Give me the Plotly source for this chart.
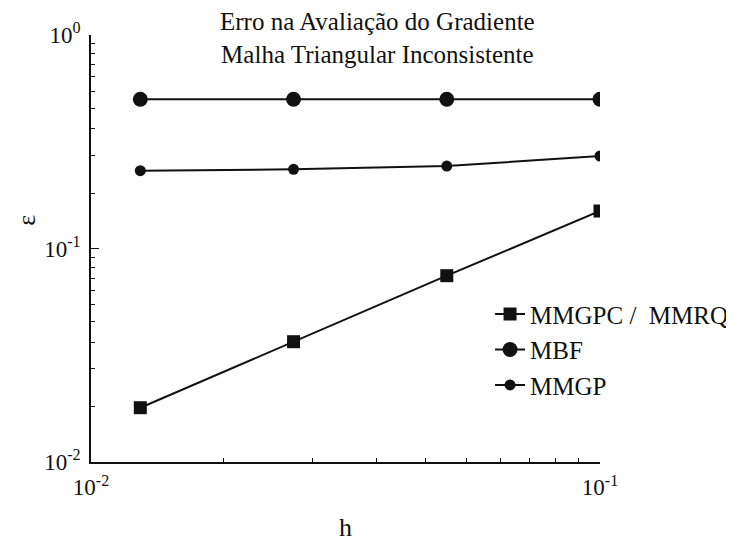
import plotly.graph_objects as go

# ---- data ----
h = [0.0125, 0.025, 0.05, 0.1]
mmgpc_mmrq = [0.01796, 0.0366, 0.0746, 0.1498]
mbf = [0.5, 0.5, 0.5, 0.5]
mmgp = [0.2314, 0.2349, 0.2434, 0.2712]

series_names = ["MMGPC /\u00a0 MMRQ", "MBF", "MMGP"]
x_tick_vals = [0.01, 0.1]
x_tick_text = ["10<sup>-2</sup>", "10<sup>-1</sup>"]
y_tick_vals = [0.01, 0.1, 1.0]
y_tick_text = ["10<sup>-2</sup>", "10<sup>-1</sup>", "10<sup>0</sup>"]
title_lines = ["Erro na Avaliação do Gradiente", "Malha Triangular Inconsistente"]
x_title = "h"
y_title = "ε"

# ---- styling ----
INK = "#111111"
FONT = "Liberation Serif"
# minor ticks in the original are offset by a factor 1/1.1 from the decades
MINOR_SHIFT = 1 / 1.1
x_minor = [k * 0.01 * MINOR_SHIFT for k in range(2, 11)]
y_minor = [k * 10.0 ** d * MINOR_SHIFT for d in (-2, -1) for k in range(2, 11)]

fig = go.Figure()
fig.add_trace(go.Scatter(x=h, y=mmgpc_mmrq, name=series_names[0], mode="lines+markers",
                         line=dict(color=INK, width=2),
                         marker=dict(symbol="square", size=13, color=INK)))
fig.add_trace(go.Scatter(x=h, y=mbf, name=series_names[1], mode="lines+markers",
                         line=dict(color=INK, width=2),
                         marker=dict(symbol="circle", size=15, color=INK)))
fig.add_trace(go.Scatter(x=h, y=mmgp, name=series_names[2], mode="lines+markers",
                         line=dict(color=INK, width=2),
                         marker=dict(symbol="circle", size=11, color=INK)))

axis_common = dict(
    type="log", showgrid=False, zeroline=False, showline=True,
    linecolor=INK, linewidth=1.5, ticks="inside", ticklen=8, tickwidth=1,
    tickcolor=INK, tickmode="array",
    tickfont=dict(family=FONT, size=23, color=INK),
)

fig.update_layout(
    width=734, height=540,
    margin=dict(l=83, r=142, t=27, b=86, autoexpand=False),
    paper_bgcolor="white", plot_bgcolor="white",
    font=dict(family=FONT, color=INK),
    showlegend=True,
    legend=dict(x=0.784, y=0.40, xanchor="left", yanchor="top",
                font=dict(family=FONT, size=25, color=INK),
                bgcolor="rgba(0,0,0,0)", tracegroupgap=0),
    xaxis=dict(axis_common, range=[-2, -1], tickvals=x_tick_vals, ticktext=x_tick_text,
               ticklabelstandoff=4,
               minor=dict(tickmode="array", tickvals=x_minor, ticks="inside",
                          ticklen=4, tickwidth=1, tickcolor=INK, showgrid=False),
               title=dict(text=x_title, font=dict(family=FONT, size=26, color=INK),
                          standoff=18)),
    yaxis=dict(axis_common, range=[-2, 0], tickvals=y_tick_vals, ticktext=y_tick_text,
               ticklabelstandoff=4,
               minor=dict(tickmode="array", tickvals=y_minor, ticks="inside",
                          ticklen=4, tickwidth=1, tickcolor=INK, showgrid=False)),
    annotations=[
        dict(text="<br>".join(title_lines), xref="paper", yref="paper", x=0.562, y=0.992,
             xanchor="center", yanchor="middle", showarrow=False,
             font=dict(family=FONT, size=25, color=INK)),
        dict(text=y_title, xref="paper", yref="paper", x=-0.126, y=0.567,
             xanchor="center", yanchor="middle", textangle=-90, showarrow=False,
             font=dict(family=FONT, size=26, color=INK)),
    ],
)

fig.write_html("out.html")
